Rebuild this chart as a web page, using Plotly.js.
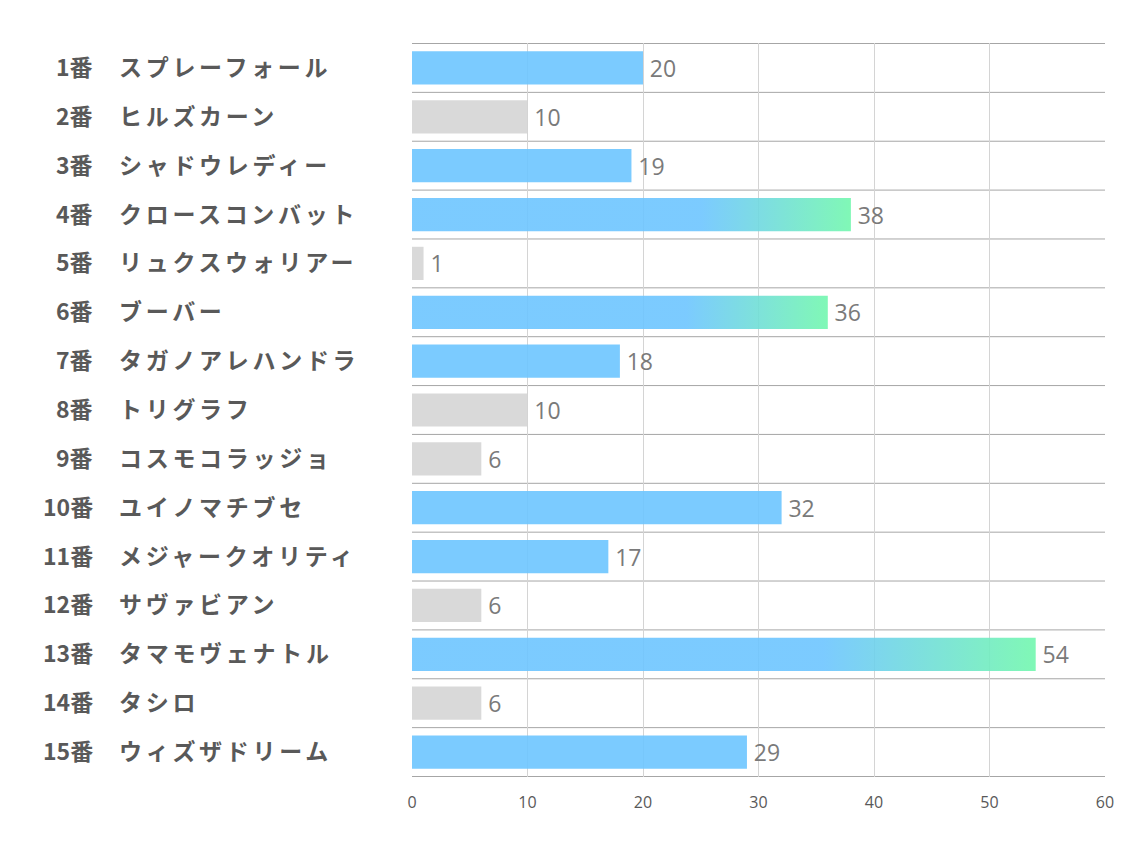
<!DOCTYPE html>
<html>
<head>
<meta charset="utf-8">
<script src="https://cdn.plot.ly/plotly-3.0.1.min.js"></script>
<style>
  body { margin: 0; background: #fff; }
  #plotArea { width: 1134px; height: 850px; }
</style>
</head>
<body>
<div id="plotArea"></div>
<script>
// horse numbers and names
var numbers = ["1番", "2番", "3番", "4番", "5番", "6番", "7番", "8番", "9番", "10番",
    "11番", "12番", "13番", "14番", "15番"];
var names = ["スプレーフォール", "ヒルズカーン", "シャドウレディー", "クロースコンバット", "リュクスウォリアー",
    "ブーバー", "タガノアレハンドラ", "トリグラフ", "コスモコラッジョ", "ユイノマチブセ",
    "メジャークオリティ", "サヴァビアン", "タマモヴェナトル", "タシロ", "ウィズザドリーム"];
var scores = [20, 10, 19, 38, 1, 36, 18, 10, 6, 32, 17, 6, 54, 6, 29];

// bars are slightly see-through, so these are a bit deeper than what shows
var blue = "#6dc5ff";
var gray = "#d5d5d5";
var green = "#72f7ae";

// gray for low scores, blue otherwise
var colors = scores.map(function(v) {
    return v <= 10 ? gray : blue;
});

var trace = {
    type: "bar",
    orientation: "h",
    x: scores,
    y: numbers,
    texttemplate: "\u2009%{x}",
    textposition: "outside",
    cliponaxis: false,
    textfont: {family: "Open Sans, Noto Sans, sans-serif", size: 23, color: "#7a7a7a"},
    marker: {color: colors, opacity: 0.9, line: {width: 0}},
    hoverinfo: "none"
};

var labelFont = {family: "Noto Sans CJK JP", size: 23, color: "#595959", weight: "bold"};

// label columns left of the plot
var annotations = [];
numbers.forEach(function(n, i) {
    annotations.push({
        xref: "paper", yref: "y", x: -0.4603, y: n, xanchor: "right", xshift: 2, yshift: 2,
        text: n, showarrow: false, font: labelFont
    });
    annotations.push({
        xref: "paper", yref: "y", x: -0.42, y: n, xanchor: "left", align: "left", xshift: -4, yshift: 2,
        text: names[i], showarrow: false, font: labelFont
    });
});

// row separators
var shapes = [];
for (var i = 0; i <= numbers.length; i++) {
    shapes.push({
        type: "line", xref: "paper", yref: "y", x0: 0, x1: 1,
        y0: i - 0.5, y1: i - 0.5, layer: "below",
        line: {color: "#a6a6a6", width: 1}
    });
}

var layout = {
    width: 1134,
    height: 850,
    margin: {l: 412, r: 29, t: 43, b: 73},
    paper_bgcolor: "#fff",
    plot_bgcolor: "#fff",
    showlegend: false,
    bargap: 0.32,
    xaxis: {
        range: [0, 60],
        dtick: 10,
        showgrid: true,
        gridcolor: "#d4d4d4",
        zeroline: false,
        showline: false,
        ticks: "",
        ticklabelstandoff: 14,
        tickfont: {family: "Open Sans, sans-serif", size: 16, color: "#595959"},
        fixedrange: true
    },
    yaxis: {
        autorange: "reversed",
        showticklabels: false,
        showgrid: false,
        zeroline: false,
        ticks: "",
        fixedrange: true
    },
    annotations: annotations,
    shapes: shapes
};

Plotly.newPlot("plotArea", [trace], layout, {displayModeBar: false, staticPlot: true}).then(function(gd) {
    // blue to green fade on the top scores
    var svg = gd.querySelector(".main-svg");
    var ns = "http://www.w3.org/2000/svg";
    var defs = svg.querySelector("defs") || svg.insertBefore(document.createElementNS(ns, "defs"), svg.firstChild);
    var grad = document.createElementNS(ns, "linearGradient");
    grad.setAttribute("id", "fadeGreen");
    grad.setAttribute("x1", "0"); grad.setAttribute("x2", "1");
    grad.setAttribute("y1", "0"); grad.setAttribute("y2", "0");
    [["0", blue], ["0.66", blue], ["1", green]].forEach(function(s) {
        var st = document.createElementNS(ns, "stop");
        st.setAttribute("offset", s[0]);
        st.setAttribute("stop-color", s[1]);
        grad.appendChild(st);
    });
    defs.appendChild(grad);
    var bars = gd.querySelectorAll(".bars .point path");
    bars.forEach(function(p, i) {
        if (scores[i] >= 36) p.style.fill = "url(#fadeGreen)";
    });
    // spread the horse names out like the original
    gd.querySelectorAll(".annotation-text").forEach(function(t) {
        if (t.textContent.indexOf("番") < 0) t.style.letterSpacing = "3.7px";
    });
});
</script>
</body>
</html>
